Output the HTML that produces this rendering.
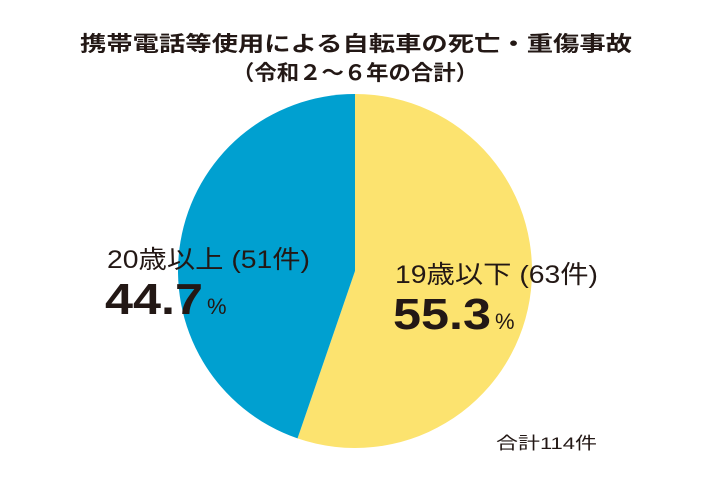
<!DOCTYPE html>
<html><head><meta charset="utf-8"><style>
body{margin:0;width:710px;height:480px;background:#fff;overflow:hidden;font-family:"Liberation Sans","Noto Sans CJK JP",sans-serif;color:#231815}
</style></head><body>
<svg id="chart" width="710" height="480">
<text x="80" y="51" textLength="552" lengthAdjust="spacingAndGlyphs" font-size="21" font-weight="bold" fill="#231815" font-family="Liberation Sans, Noto Sans CJK JP, sans-serif">携帯電話等使用による自転車の死亡・重傷事故</text>
<text x="232" y="80" textLength="246" lengthAdjust="spacingAndGlyphs" font-size="21" font-weight="bold" fill="#231815" font-family="Liberation Sans, Noto Sans CJK JP, sans-serif">（令和２～６年の合計）</text>
<g id="slices"></g>
<text x="107" y="268" textLength="203" lengthAdjust="spacingAndGlyphs" font-size="25" fill="#231815" font-family="Liberation Sans, Noto Sans CJK JP, sans-serif">20歳以上 (51件)</text>
<text x="105" y="314" font-size="44" font-weight="bold" fill="#231815" font-family="Liberation Sans, sans-serif"><tspan textLength="98" lengthAdjust="spacingAndGlyphs">44.7</tspan><tspan dx="4" font-size="22" font-weight="normal">%</tspan></text>
<text x="395" y="283" textLength="203" lengthAdjust="spacingAndGlyphs" font-size="25" fill="#231815" font-family="Liberation Sans, Noto Sans CJK JP, sans-serif">19歳以下 (63件)</text>
<text x="393" y="329" font-size="44" font-weight="bold" fill="#231815" font-family="Liberation Sans, sans-serif"><tspan textLength="98" lengthAdjust="spacingAndGlyphs">55.3</tspan><tspan dx="4" font-size="22" font-weight="normal">%</tspan></text>
<text x="496" y="449" textLength="101" lengthAdjust="spacingAndGlyphs" font-size="17" fill="#231815" font-family="Liberation Sans, Noto Sans CJK JP, sans-serif">合計114件</text>
</svg>
<script>
const categories = ["19歳以下", "20歳以上"];
const values = [63, 51];
const colors = ["#fce36f", "#00a0d0"];
const cx = 355, cy = 271, r = 177;
const total = values.reduce((a, b) => a + b, 0);
const g = document.getElementById('slices');
let start = 0;
values.forEach((v, i) => {
  const a0 = start / total * 2 * Math.PI, a1 = (start + v) / total * 2 * Math.PI;
  start += v;
  const x0 = cx + r * Math.sin(a0), y0 = cy - r * Math.cos(a0);
  const x1 = cx + r * Math.sin(a1), y1 = cy - r * Math.cos(a1);
  const large = (a1 - a0) > Math.PI ? 1 : 0;
  const p = document.createElementNS('http://www.w3.org/2000/svg', 'path');
  p.setAttribute('d', `M${cx},${cy} L${x0},${y0} A${r},${r} 0 ${large} 1 ${x1},${y1} Z`);
  p.setAttribute('fill', colors[i]);
  
  
  g.appendChild(p);
});
</script>
</body></html>
